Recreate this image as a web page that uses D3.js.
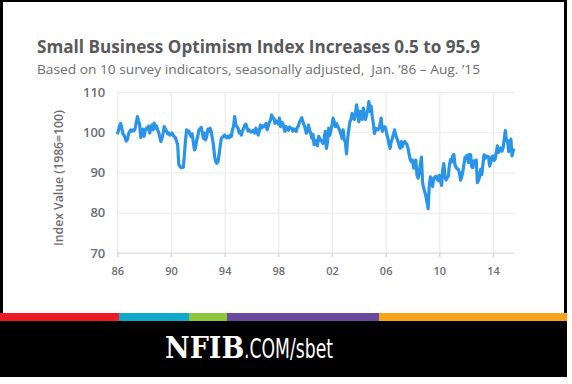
<!DOCTYPE html>
<html>
<head>
<meta charset="utf-8">
<script src="https://cdn.jsdelivr.net/npm/d3@7"></script>
<style>
  body { margin: 0; background: #fff; }
  svg { display: block; font-family: 'Open Sans', 'DejaVu Sans', sans-serif; }
</style>
</head>
<body>
<div id="chart"></div>
<script>
// NFIB Small Business Optimism Index, monthly, Jan 1986 - Aug 2015 (1986=100)
const startYear = 1986;
const sboi = [
  99.5, 100.4, 101.5, 102.2, 101.0, 99.6, 99.3, 98.6, 97.8, 98.2, 99.5, 100.2,   // 86
  100.6, 100.3, 100.6, 100.4, 101.0, 102.5, 103.9, 102.8, 101.8, 98.7, 99.5, 100.8,
  99.0, 100.5, 101.0, 100.8, 101.5, 99.8, 101.2, 101.8, 100.6, 102.3, 101.0, 101.6,
  100.6, 100.0, 98.8, 97.7, 98.5, 99.8, 101.4, 100.8, 100.3, 99.6, 99.8, 99.3,
  99.5, 99.8, 99.2, 98.9, 98.6, 97.8, 96.8, 92.0, 91.5, 91.2, 91.4, 91.3,        // 90
  94.4, 98.0, 100.6, 100.2, 100.3, 99.5, 98.9, 99.6, 97.5, 95.6, 96.2, 98.0,
  99.0, 100.6, 100.8, 101.2, 100.0, 98.5, 99.8, 98.1, 99.0, 100.8, 100.2, 101.0,
  100.2, 98.5, 96.9, 94.0, 92.7, 92.3, 92.6, 94.4, 96.5, 98.5, 98.8, 99.0,
  99.3, 98.8, 98.6, 99.0, 98.6, 99.2, 99.0, 100.6, 101.5, 103.9, 101.8, 101.4,   // 94
  101.0, 99.8, 100.2, 99.3, 100.4, 101.0, 101.8, 102.0, 101.2, 100.3, 100.6, 100.1,
  100.1, 100.3, 100.5, 99.8, 101.0, 100.2, 99.3, 100.4, 101.8, 101.0, 101.6, 101.4,
  101.4, 102.2, 100.6, 101.5, 102.5, 103.0, 104.3, 103.6, 103.5, 102.2, 102.8, 102.6,
  102.0, 103.5, 101.4, 102.5, 102.2, 101.0, 100.2, 101.4, 100.8, 100.5, 101.3, 101.0, // 98
  101.0, 100.3, 100.8, 100.6, 100.2, 101.2, 101.6, 102.6, 103.0, 103.6, 102.6, 101.8,
  101.0, 99.8, 100.1, 101.8, 100.5, 99.8, 98.5, 99.5, 96.9, 98.0, 97.2, 96.6,
  99.0, 98.5, 98.0, 97.7, 97.2, 98.5, 100.2, 96.0, 97.5, 101.0, 99.2, 100.5,
  101.8, 103.5, 102.6, 101.4, 102.2, 101.6, 101.0, 100.4, 99.5, 98.5, 100.6, 98.0, // 02
  97.5, 94.6, 98.5, 100.6, 102.6, 103.2, 104.7, 103.5, 103.2, 104.7, 106.8, 105.0,
  102.6, 105.2, 104.0, 103.2, 106.0, 104.5, 103.2, 104.3, 105.5, 107.6, 105.2, 106.5,
  104.0, 102.2, 99.7, 101.0, 100.8, 100.6, 101.0, 102.0, 103.5, 100.2, 101.0, 101.4,
  101.0, 99.5, 98.5, 97.0, 96.0, 97.7, 98.5, 99.5, 100.6, 99.3, 98.5, 97.7,       // 06
  96.8, 96.0, 97.7, 96.4, 97.5, 97.7, 97.3, 97.0, 96.0, 94.5, 93.1, 92.7,
  93.1, 91.1, 91.5, 93.1, 89.4, 88.6, 90.0, 92.0, 93.8, 87.5, 86.1, 85.2,
  84.1, 82.6, 81.0, 86.8, 88.9, 87.9, 86.5, 88.6, 88.8, 89.1, 88.3, 88.0,
  89.3, 88.0, 86.8, 90.6, 92.2, 89.0, 88.1, 88.8, 89.0, 91.7, 93.2, 92.6,        // 10
  94.1, 94.5, 91.9, 91.2, 90.9, 90.8, 89.9, 88.1, 88.9, 90.2, 92.0, 93.8,
  93.9, 94.3, 92.5, 94.5, 94.4, 91.4, 91.2, 92.9, 92.8, 93.1, 87.5, 88.0,
  88.9, 90.8, 89.5, 92.1, 94.4, 93.5, 94.1, 94.0, 93.9, 91.6, 92.5, 93.9,
  94.1, 93.0, 93.4, 95.2, 96.6, 95.0, 95.7, 96.1, 95.3, 96.1, 98.1, 100.4,       // 14
  97.9, 98.0, 95.2, 96.9, 98.3, 94.1, 95.4, 95.9
];
const yTicks = [70, 80, 90, 100, 110];
const xTickYears = [1986, 1990, 1994, 1998, 2002, 2006, 2010, 2014];
const xTickLabels = ['86', '90', '94', '98', '02', '06', '10', '14'];
const titleText = 'Small Business Optimism Index Increases 0.5 to 95.9';
const subtitleText = 'Based on 10 survey indicators, seasonally adjusted,  Jan. \u201986 \u2013 Aug. \u201915';
const yTitle = 'Index Value (1986=100)';
// footer stripe: colour and where it ends along the frame
const stripeColors = ['#ed1c24', '#10a9c9', '#8cc63f', '#6a4a9e', '#f7a21b'];
const stripeEnds = [119, 189, 227, 379, 567];

const W = 572, H = 384;
const frameW = 567, frameH = 377;
const margin = { top: 92, left: 117.3, bottom: 253, right: 515 };

const svg = d3.select('#chart').append('svg')
  .attr('width', W)
  .attr('height', H);

// frame + white card
svg.append('rect').attr('x', 0).attr('y', 0).attr('width', frameW).attr('height', frameH).attr('fill', '#000');
svg.append('rect').attr('x', 3).attr('y', 2).attr('width', frameW - 6).attr('height', 311).attr('fill', '#fff');

// colour stripe
let prev = 0;
stripeColors.forEach((c, i) => {
  svg.append('rect')
    .attr('x', prev).attr('y', 313)
    .attr('width', stripeEnds[i] - prev).attr('height', 8)
    .attr('fill', c);
  prev = stripeEnds[i];
});

// footer logo
svg.append('text')
  .attr('x', 165).attr('y', 358)
  .attr('fill', '#fff')
  .style('font-family', "'DejaVu Serif Condensed', 'DejaVu Serif', serif")
  .style('font-weight', 'bold')
  .style('font-size', '30px')
  .text('NFIB');
svg.append('text')
  .attr('x', 244).attr('y', 358)
  .attr('fill', '#fff')
  .style('font-family', "'Liberation Sans Narrow', 'DejaVu Sans Condensed', sans-serif")
  .style('font-size', '26px')
  .attr('textLength', 89)
  .attr('lengthAdjust', 'spacingAndGlyphs')
  .text('.COM/sbet');

// titles, stretched to the reference width
function fitText(sel, width) {
  sel.attr('textLength', width).attr('lengthAdjust', 'spacingAndGlyphs');
}
svg.append('text')
  .attr('x', 37).attr('y', 53)
  .attr('fill', '#58595b')
  .style('font-size', '18.5px')
  .style('font-weight', 'bold')
  .text(titleText)
  .call(fitText, 443);
svg.append('text')
  .attr('x', 37).attr('y', 74)
  .attr('fill', '#6d6e71')
  .style('font-size', '13.5px')
  .style('white-space', 'pre')
  .text(subtitleText)
  .call(fitText, 443);

const x = d3.scaleLinear()
  .domain([startYear, 2014])
  .range([margin.left, 493]);
const y = d3.scaleLinear()
  .domain([70, 110])
  .range([margin.bottom, margin.top]);

const plotW = margin.right - margin.left;
const plotH = margin.bottom - margin.top;

// horizontal gridlines + y labels
svg.append('g')
  .attr('class', 'axis y')
  .attr('transform', `translate(${margin.left},0)`)
  .call(d3.axisLeft(y).tickValues(yTicks).tickSize(-plotW).tickPadding(12))
  .call(g => g.select('.domain').remove())
  .call(g => g.selectAll('.tick line').attr('stroke', '#ebebeb').attr('stroke-width', 1.2))
  .call(g => g.selectAll('.tick text')
    .attr('fill', '#6d6e71')
    .style('font-size', '13px')
    .style('font-weight', '600')
    .style('font-family', "'Open Sans', sans-serif"));

// vertical gridlines
svg.append('g')
  .attr('transform', `translate(0,${margin.bottom})`)
  .call(d3.axisBottom(x).tickValues(xTickYears).tickSize(-plotH).tickFormat(''))
  .call(g => g.select('.domain').remove())
  .call(g => g.selectAll('.tick line').attr('stroke', '#ebebeb').attr('stroke-width', 1.2));

// x axis with small ticks and labels
svg.append('g')
  .attr('transform', `translate(0,${margin.bottom})`)
  .call(d3.axisBottom(x).tickValues(xTickYears).tickSize(4).tickPadding(10)
    .tickFormat((d, i) => xTickLabels[i]))
  .call(g => g.select('.domain').attr('stroke', '#dcdcdc').attr('stroke-width', 1.2)
    .attr('d', `M${margin.left},0H${margin.right}`))
  .call(g => g.selectAll('.tick line').attr('stroke', '#d0d0d0').attr('stroke-width', 1.2))
  .call(g => g.selectAll('.tick text')
    .attr('fill', '#6d6e71')
    .style('font-size', '11px')
    .style('font-weight', '600')
    .style('font-family', "'Open Sans', sans-serif"));

// y title
svg.append('text')
  .attr('transform', 'translate(63,178) rotate(-90)')
  .attr('text-anchor', 'middle')
  .attr('fill', '#6d6e71')
  .style('font-size', '12.5px')
  .style('font-weight', '600')
  .attr('textLength', 136)
  .attr('lengthAdjust', 'spacingAndGlyphs')
  .text(yTitle);

// index line
const line = d3.line()
  .x((d, i) => x(startYear + i / 12))
  .y(d => y(d));
svg.append('path')
  .datum(sboi)
  .attr('d', line)
  .attr('fill', 'none')
  .attr('stroke', '#2a94e8')
  .attr('stroke-width', 3.2)
  .attr('stroke-linejoin', 'round');
</script>
</body>
</html>
